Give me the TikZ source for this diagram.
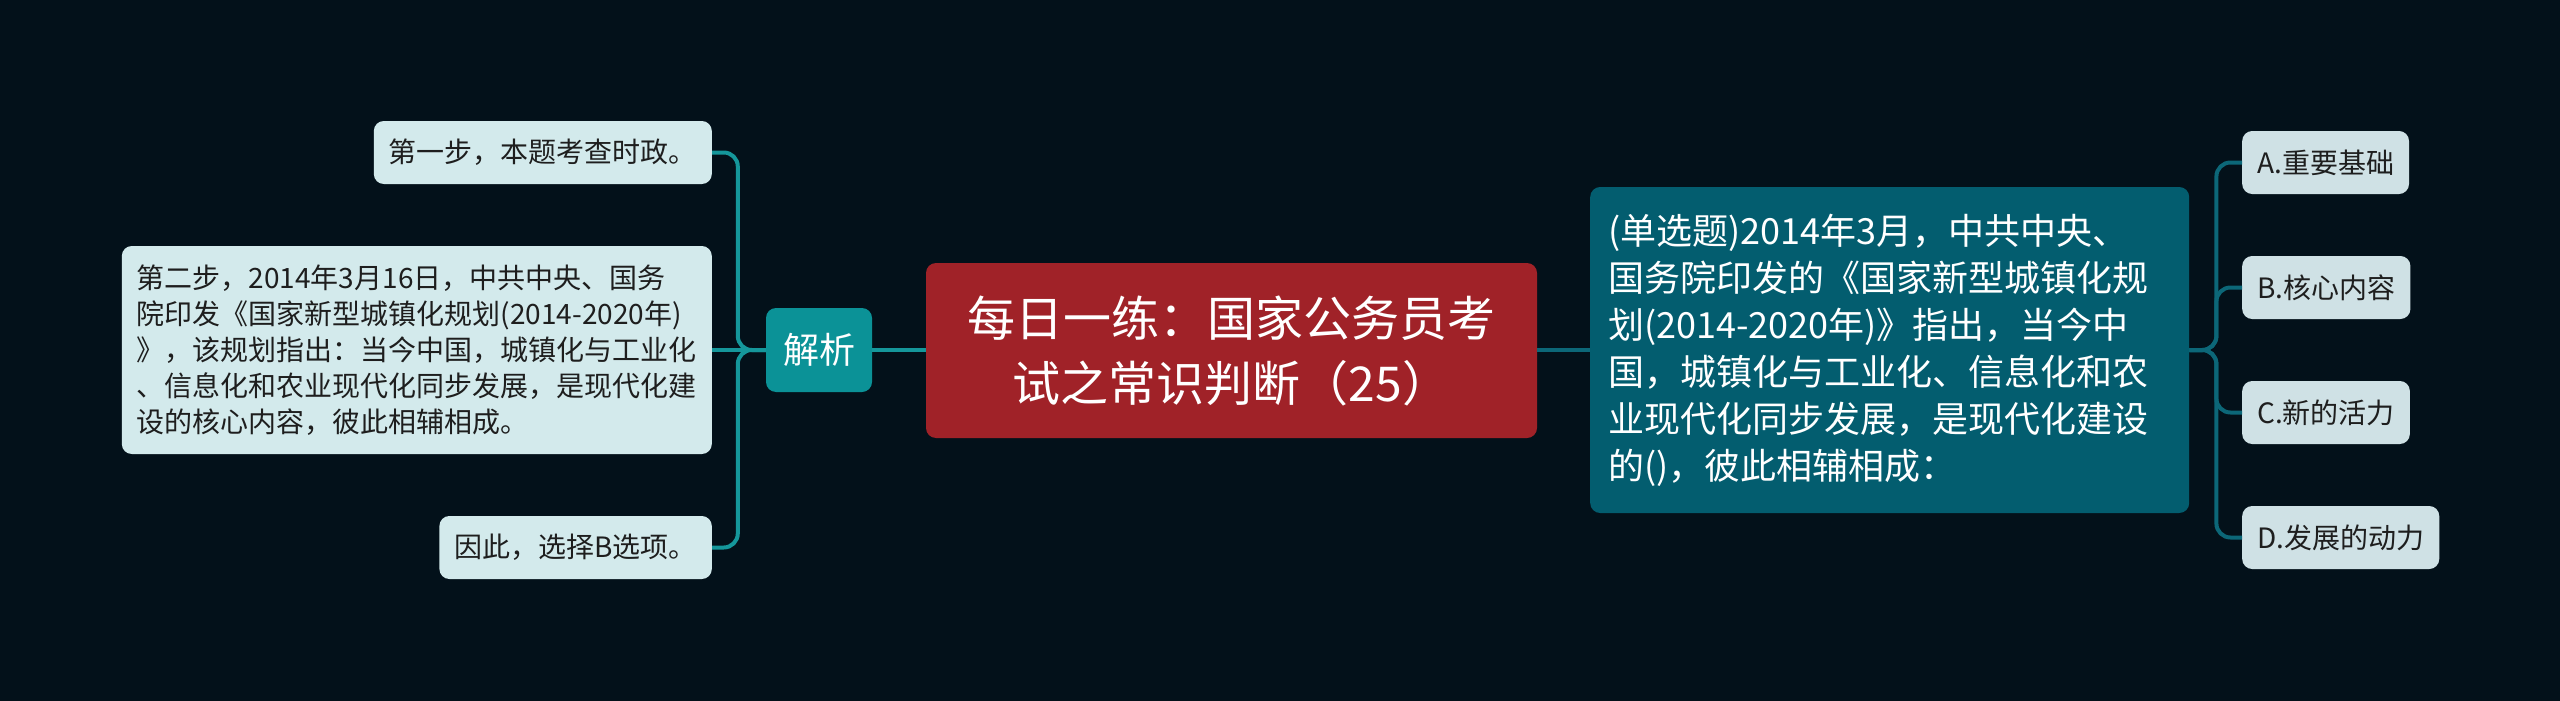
\documentclass[tikz,border=0pt]{standalone}
\usepackage{fontspec}
\setmainfont{Noto Sans CJK SC}
\definecolor{bgc}{HTML}{03111A}
\definecolor{redc}{HTML}{A02228}
\definecolor{tealc}{HTML}{0B9297}
\definecolor{qc}{HTML}{035D6F}
\definecolor{lightl}{HTML}{D3EAEC}
\definecolor{lightr}{HTML}{CFE1E5}
\definecolor{llc}{HTML}{15979B}
\definecolor{rlc}{HTML}{0C6778}
\definecolor{inkc}{HTML}{1E1E1E}
\begin{document}
\begin{tikzpicture}[x=1pt,y=-1pt,
  box/.style={rounded corners=10pt, inner ysep=0pt, minimum height=63pt},
  lbox/.style={box, fill=lightl, text=inkc, inner xsep=15pt, anchor=east, align=left, font=\fontsize{28}{36}\selectfont},
  obox/.style={box, fill=lightr, text=inkc, inner xsep=15pt, anchor=west, font=\fontsize{28}{34}\selectfont},
  lline/.style={draw=llc, line width=4pt, rounded corners=14pt},
  rline/.style={draw=rlc, line width=4pt, rounded corners=14pt}]
\fill[bgc] (0,0) rectangle (2560,701);
\useasboundingbox (0,0) rectangle (2560,701);

\node[box, fill=redc, text=white, minimum width=611pt, minimum height=175pt, inner xsep=0pt, align=center, font=\fontsize{48}{65}\selectfont] (c) at (1231.5,350.5) {每日一练：国家公务员考\\试之常识判断（25）};

\node[box, fill=tealc, text=white, minimum width=106pt, minimum height=84pt, inner xsep=0pt, font=\fontsize{36}{40}\selectfont] (j) at (819,350) {解析};

\node[lbox] (s1) at (712,152.5) {第一步，本题考查时政。};
\node[lbox, minimum height=208pt] (s2) at (712,350) {第二步，2014年3月16日，中共中央、国务\\院印发《国家新型城镇化规划(2014-2020年)\\》，该规划指出：当今中国，城镇化与工业化\\、信息化和农业现代化同步发展，是现代化建\\设的核心内容，彼此相辅相成。};
\node[lbox] (s3) at (712,547.5) {因此，选择B选项。};

\node[box, fill=qc, text=white, anchor=west, inner xsep=18pt, text width=563pt, minimum height=326pt, align=left, font=\fontsize{36}{47}\selectfont] (q) at (1590,350) {(单选题)2014年3月，中共中央、\\国务院印发的《国家新型城镇化规\\划(2014-2020年)》指出，当今中\\国，城镇化与工业化、信息化和农\\业现代化同步发展，是现代化建设\\的()，彼此相辅相成：};

\node[obox] (a) at (2242,162.5) {A.重要基础};
\node[obox] (b) at (2242,287.5) {B.核心内容};
\node[obox] (cc) at (2242,412.5) {C.新的活力};
\node[obox] (d) at (2242,537.5) {D.发展的动力};

\draw[lline] (j.east) -- (c.west |- j.east);
\draw[rline] (c.east |- q.west) -- (q.west);

\draw[lline] (j.west) -- ++(-28,0) |- (s1.east);
\draw[lline] (j.west) -- (s2.east);
\draw[lline] (j.west) -- ++(-28,0) |- (s3.east);

\draw[rline] (q.east) -- ++(27,0) |- (a.west);
\draw[rline] (q.east) -- ++(27,0) |- (b.west);
\draw[rline] (q.east) -- ++(27,0) |- (cc.west);
\draw[rline] (q.east) -- ++(27,0) |- (d.west);
\end{tikzpicture}
\end{document}
